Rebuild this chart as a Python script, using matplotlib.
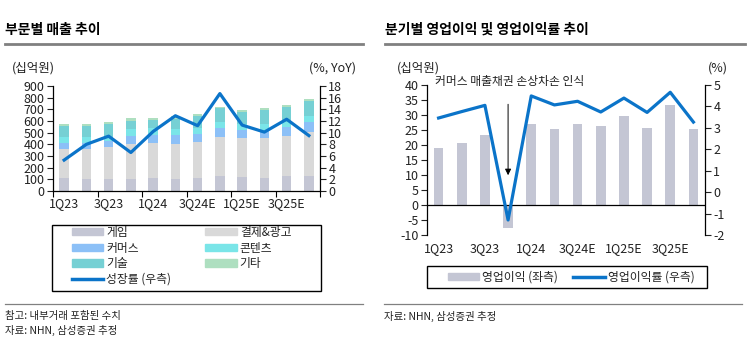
import matplotlib
matplotlib.use("Agg")
import matplotlib.pyplot as plt
from matplotlib.lines import Line2D
from matplotlib.patches import Patch, Rectangle
import numpy as np

plt.rcParams['font.family'] = ['Noto Sans CJK KR', 'DejaVu Sans']
plt.rcParams['axes.unicode_minus'] = False

quarters = ['1Q23', '2Q23', '3Q23', '4Q23', '1Q24', '2Q24', '3Q24E', '4Q24E',
            '1Q25E', '2Q25E', '3Q25E', '4Q25E']
tick_labels = ['1Q23', '3Q23', '1Q24', '3Q24E', '1Q25E', '3Q25E']

# Segment revenue (십억원)
game     = [114, 103, 103, 103, 114, 103, 114, 127, 120, 111, 129, 129]
payment  = [248, 260, 271, 297, 295, 300, 303, 335, 334, 343, 345, 374]
commerce = [52, 46, 55, 71, 71, 77, 72, 80, 69, 60, 77, 91]
content  = [49, 54, 37, 60, 60, 54, 54, 51, 48, 60, 43, 49]
tech     = [94, 97, 111, 72, 71, 80, 100, 115, 109, 120, 129, 131]
other    = [14, 11, 14, 20, 15, 31, 14, 14, 14, 15, 14, 17]
growth   = [5.3, 8.0, 9.4, 6.6, 10.2, 12.9, 11.2, 16.7, 11.3, 10.1, 12.3, 9.5]

# Operating profit (십억원) and margin (%)
op_profit = [18.9, 20.8, 23.3, -7.8, 27.1, 25.4, 27.0, 26.3, 29.7, 25.7, 33.3, 25.2]
op_margin = [3.46, 3.76, 4.05, -1.30, 4.49, 4.07, 4.24, 3.74, 4.39, 3.72, 4.66, 3.27]

seg_names = ['게임', '결제&광고', '커머스', '콘텐츠', '기술', '기타']
seg_colors = ['#C4C6D4', '#D9D9D9', '#8CC0F7', '#7AE5E8', '#76D0D4', '#AEDFC0']
line_color = '#0B74C9'
txt = '#222222'
fs = 9

W, H = 751, 352
fig = plt.figure(figsize=(W / 100, H / 100), dpi=100)

def fx(px):
    return px / W

def fy(py):
    return 1 - py / H

x = np.arange(len(quarters))
tick_pos = [x[i] for i in range(0, len(quarters), 2)]

# ---------------- Left chart ----------------
ax1 = fig.add_axes([fx(53), fy(191), fx(320) - fx(53), fy(86) - fy(191)])
segs = [game, payment, commerce, content, tech, other]
bottom = np.zeros(len(quarters))
for vals, name, col in zip(segs, seg_names, seg_colors):
    ax1.bar(x, vals, width=0.42, bottom=bottom, color=col, label=name, zorder=2)
    bottom += np.array(vals)
ax1.set_xlim(-0.5, len(quarters) - 0.5)
ax1.set_ylim(0, 900)
ax1.set_yticks(np.arange(0, 901, 100))
ax1.set_xticks(np.arange(-0.5, len(quarters), 2))
ax1.set_xticklabels([])
ax1.set_xticks(tick_pos, minor=True)
ax1.set_xticklabels(tick_labels, minor=True)
ax1.tick_params(axis='x', which='minor', length=0, pad=4, labelsize=fs, colors=txt)
ax1.tick_params(axis='x', which='major', length=4, width=0.8)
ax1.tick_params(axis='y', length=4, width=0.8, pad=2, labelsize=fs, colors=txt)
for s in ['top', 'right']:
    ax1.spines[s].set_visible(False)
ax1b = ax1.twinx()
ax1b.plot(x, growth, color=line_color, lw=2.3, zorder=3)
ax1b.set_ylim(0, 18)
ax1b.set_yticks(np.arange(0, 19, 2))
ax1b.tick_params(axis='y', length=4, width=0.8, pad=2, labelsize=fs, colors=txt)
for s in ['top', 'left', 'bottom']:
    ax1b.spines[s].set_visible(False)
for a in (ax1, ax1b):
    for s in a.spines.values():
        s.set_linewidth(0.9)

fig.text(fx(12), fy(68), '(십억원)', fontsize=fs, color=txt, va='center', ha='left')
fig.text(fx(356), fy(68), '(%, YoY)', fontsize=fs, color=txt, va='center', ha='right')

handles = [Patch(color=seg_colors[0]), Patch(color=seg_colors[2]), Patch(color=seg_colors[4]),
           Line2D([], [], color=line_color, lw=2.5),
           Patch(color=seg_colors[1]), Patch(color=seg_colors[3]), Patch(color=seg_colors[5])]
labels = [seg_names[0], seg_names[2], seg_names[4], '성장률 (우측)',
          seg_names[1], seg_names[3], seg_names[5]]
fig.add_artist(Rectangle((fx(52), fy(291)), fx(321) - fx(52), fy(225) - fy(291),
                         transform=fig.transFigure, fill=False, edgecolor='black', lw=1.0))
leg1 = fig.legend(handles, labels, loc='upper left', ncol=2,
                  bbox_to_anchor=(fx(72), fy(226)),
                  fontsize=8.5, frameon=False,
                  handlelength=2.65, handleheight=0.55, handletextpad=0.25,
                  labelspacing=0.22, borderpad=0, borderaxespad=0, columnspacing=2.9)
for t in leg1.get_texts():
    t.set_color(txt)

# ---------------- Right chart ----------------
ax2 = fig.add_axes([fx(427), fy(235), fx(705) - fx(427), fy(85) - fy(235)])
ax2.bar(x, op_profit, width=0.42, color='#C4C6D4', zorder=2)
ax2.axhline(0, color='black', lw=0.9, zorder=3)
ax2.set_xlim(-0.5, len(quarters) - 0.5)
ax2.set_ylim(-10, 40)
ax2.set_yticks(np.arange(-10, 41, 5))
ax2.set_xticks(tick_pos)
ax2.set_xticklabels(tick_labels)
ax2.tick_params(axis='x', length=0, pad=5, labelsize=fs, colors=txt)
ax2.tick_params(axis='y', length=4, width=0.8, pad=2, labelsize=fs, colors=txt)
for s in ['top', 'right', 'bottom']:
    ax2.spines[s].set_visible(False)
ax2b = ax2.twinx()
ax2b.plot(x, op_margin, color=line_color, lw=2.3, zorder=4)
ax2b.set_ylim(-2, 5)
ax2b.set_yticks(np.arange(-2, 6, 1))
ax2b.tick_params(axis='y', length=4, width=0.8, pad=2, labelsize=fs, colors=txt)
for s in ['top', 'left', 'bottom']:
    ax2b.spines[s].set_visible(False)
for a in (ax2, ax2b):
    for s in a.spines.values():
        s.set_linewidth(0.9)

ax2.annotate('', xy=(3, 9), xytext=(3, 34.5),
             arrowprops=dict(arrowstyle='-|>', color='black', lw=0.7, mutation_scale=9),
             zorder=5)
fig.text(fx(435), fy(82), '커머스 매출채권 손상차손 인식', fontsize=8.5, color=txt,
         va='center', ha='left')

fig.text(fx(397), fy(68), '(십억원)', fontsize=fs, color=txt, va='center', ha='left')
fig.text(fx(728), fy(68), '(%)', fontsize=fs, color=txt, va='center', ha='right')

fig.add_artist(Rectangle((fx(427), fy(288)), fx(707) - fx(427), fy(266) - fy(288),
                         transform=fig.transFigure, fill=False, edgecolor='black', lw=1.0))
leg2 = fig.legend([Patch(color='#C4C6D4'), Line2D([], [], color=line_color, lw=2.5)],
                  ['영업이익 (좌측)', '영업이익률 (우측)'], loc='center left', ncol=2,
                  bbox_to_anchor=(fx(448), fy(277)),
                  fontsize=8.5, frameon=False,
                  handlelength=2.65, handleheight=0.55, handletextpad=0.25,
                  borderpad=0, borderaxespad=0, columnspacing=1.3)
for t in leg2.get_texts():
    t.set_color(txt)

# ---------------- Titles, rules, notes ----------------
fig.text(fx(5), fy(30), '부문별 매출 추이', fontsize=10, fontweight='bold', color='black',
         va='center', ha='left')
fig.text(fx(385), fy(30), '분기별 영업이익 및 영업이익률 추이', fontsize=10, fontweight='bold',
         color='black', va='center', ha='left')
fig.add_artist(Line2D([fx(5), fx(363)], [fy(44), fy(44)], color='#808080', lw=2,
                      transform=fig.transFigure))
fig.add_artist(Line2D([fx(385), fx(745)], [fy(44), fy(44)], color='#808080', lw=2,
                      transform=fig.transFigure))
fig.add_artist(Line2D([fx(5), fx(363)], [fy(304), fy(304)], color='#808080', lw=0.9,
                      transform=fig.transFigure))
fig.add_artist(Line2D([fx(384), fx(742)], [fy(304), fy(304)], color='#808080', lw=0.9,
                      transform=fig.transFigure))
fig.text(fx(5), fy(316), '참고: 내부거래 포함된 수치', fontsize=7.5, color=txt, va='center', ha='left')
fig.text(fx(5), fy(330), '자료: NHN, 삼성증권 추정', fontsize=7.5, color=txt, va='center', ha='left')
fig.text(fx(384), fy(316), '자료: NHN, 삼성증권 추정', fontsize=7.5, color=txt, va='center', ha='left')

fig.savefig('out.png', dpi=100)
